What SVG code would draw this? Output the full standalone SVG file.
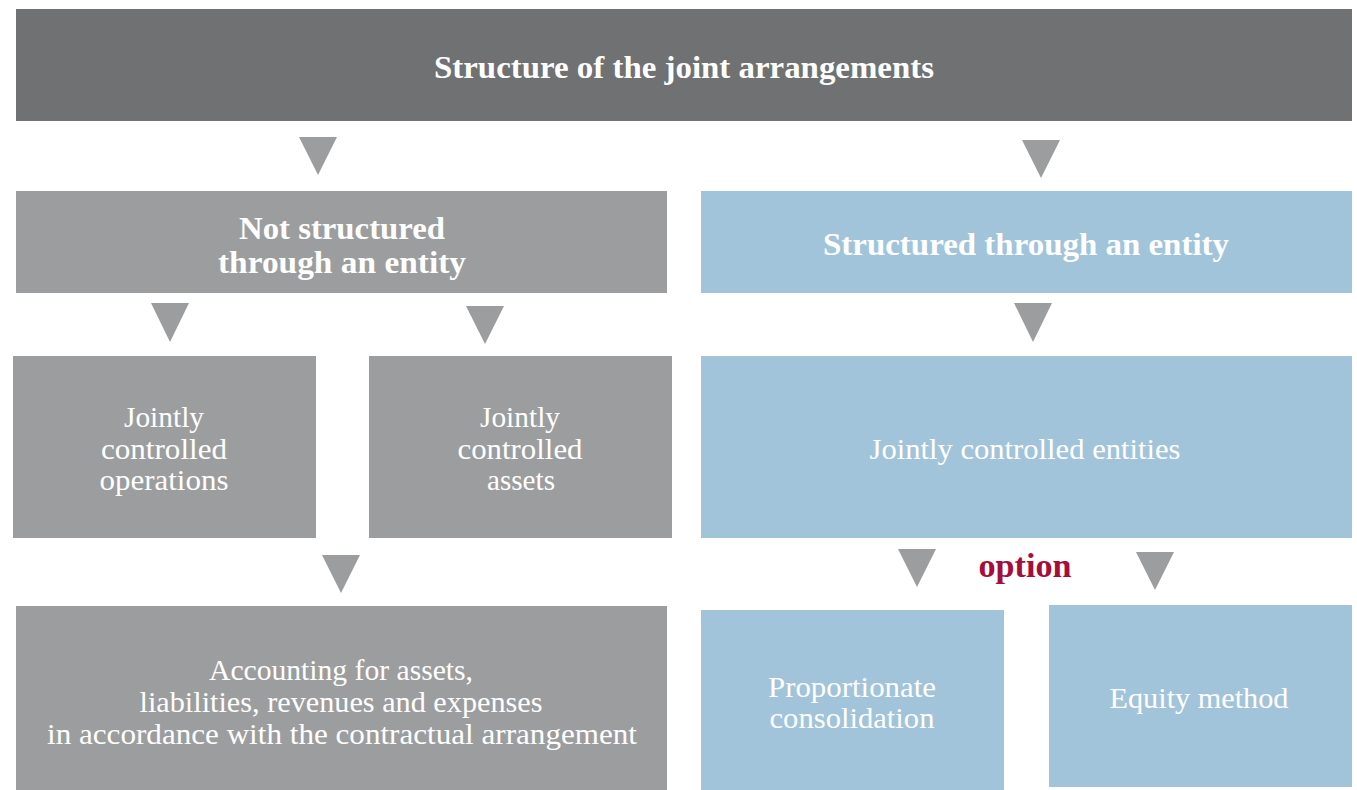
<svg xmlns="http://www.w3.org/2000/svg" width="1357" height="790" viewBox="0 0 1357 790">
<style>
.hdr{fill:#707173}
.gry{fill:#9c9d9f}
.blu{fill:#a2c4da}
.tri{fill:#9c9d9f}
text{font-family:"Liberation Serif","DejaVu Serif",serif;fill:#ffffff;text-anchor:middle}
.b{font-weight:bold;font-size:32px}
.r{font-size:30px}
.opt{fill:#a50d3a;font-weight:bold;font-size:33px}
</style>
<rect width="1357" height="790" fill="#ffffff"/>
<g id="connectors">
<polygon class="tri" points="299,137 337,137 318,175"/>
<polygon class="tri" points="1022,140 1060,140 1041,178"/>
<polygon class="tri" points="151,303 189,303 170,342"/>
<polygon class="tri" points="466,306 504,306 485,344"/>
<polygon class="tri" points="1014,303 1052,303 1033,342"/>
<polygon class="tri" points="322,555 360,555 341,593"/>
<polygon class="tri" points="898,549 936,549 917,587"/>
<polygon class="tri" points="1136,552 1174,552 1155,590"/>
<text class="opt" x="1025" y="577" textLength="93" lengthAdjust="spacingAndGlyphs">option</text>
</g>
<g id="header">
<rect class="hdr" x="16" y="9" width="1336" height="112"/>
<text class="b" x="684" y="78" textLength="500" lengthAdjust="spacingAndGlyphs">Structure of the joint arrangements</text>
</g>
<g id="not-structured">
<rect class="gry" x="16" y="191" width="651" height="102"/>
<text class="b" x="342" y="239" textLength="206" lengthAdjust="spacingAndGlyphs">Not structured</text>
<text class="b" x="342" y="273" textLength="248" lengthAdjust="spacingAndGlyphs">through an entity</text>
</g>
<g id="structured">
<rect class="blu" x="701" y="191" width="651" height="102"/>
<text class="b" x="1026" y="255" textLength="406" lengthAdjust="spacingAndGlyphs">Structured through an entity</text>
</g>
<g id="jc-operations">
<rect class="gry" x="13" y="356" width="303" height="182"/>
<text class="r" x="164" y="427" textLength="80" lengthAdjust="spacingAndGlyphs">Jointly</text>
<text class="r" x="164" y="459" textLength="126" lengthAdjust="spacingAndGlyphs">controlled</text>
<text class="r" x="164" y="490" textLength="129" lengthAdjust="spacingAndGlyphs">operations</text>
</g>
<g id="jc-assets">
<rect class="gry" x="369" y="356" width="303" height="182"/>
<text class="r" x="520" y="427" textLength="80" lengthAdjust="spacingAndGlyphs">Jointly</text>
<text class="r" x="520" y="459" textLength="125" lengthAdjust="spacingAndGlyphs">controlled</text>
<text class="r" x="521" y="490" textLength="68" lengthAdjust="spacingAndGlyphs">assets</text>
</g>
<g id="jc-entities">
<rect class="blu" x="701" y="356" width="651" height="182"/>
<text class="r" x="1025" y="459" textLength="311" lengthAdjust="spacingAndGlyphs">Jointly controlled entities</text>
</g>
<g id="accounting">
<rect class="gry" x="16" y="606" width="651" height="184"/>
<text class="r" x="341" y="680" textLength="264" lengthAdjust="spacingAndGlyphs">Accounting for assets,</text>
<text class="r" x="341" y="712" textLength="403" lengthAdjust="spacingAndGlyphs">liabilities, revenues and expenses</text>
<text class="r" x="342" y="744" textLength="590" lengthAdjust="spacingAndGlyphs">in accordance with the contractual arrangement</text>
</g>
<g id="proportionate">
<rect class="blu" x="701" y="610" width="303" height="180"/>
<text class="r" x="852" y="697" textLength="168" lengthAdjust="spacingAndGlyphs">Proportionate</text>
<text class="r" x="852" y="728" textLength="165" lengthAdjust="spacingAndGlyphs">consolidation</text>
</g>
<g id="equity">
<rect class="blu" x="1049" y="605" width="303" height="182"/>
<text class="r" x="1199" y="708" textLength="179" lengthAdjust="spacingAndGlyphs">Equity method</text>
</g>
</svg>
